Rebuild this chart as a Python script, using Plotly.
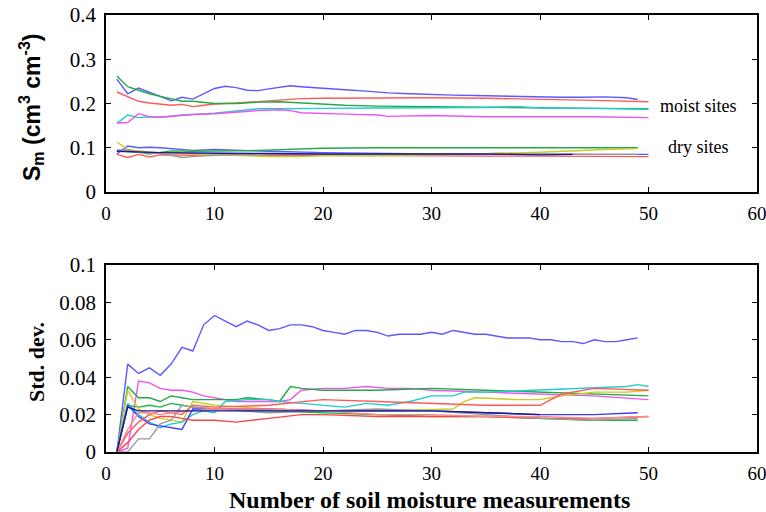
import plotly.graph_objects as go

# ---------------- data: top panel (mean soil moisture, Sm) ----------------
top_series = [
    # (x, y, colour)
    ([1,2,3,4,5,6,7,8,9,10,11,12,13,14,15,16,17,18,19,20,22,24,26,28,30,32,34,36,38,40,42,44,46,48,49],
     [0.255,0.222,0.235,0.226,0.216,0.206,0.214,0.210,0.222,0.234,0.239,0.236,0.230,0.229,0.233,0.236,0.240,0.238,0.236,0.234,0.231,0.228,0.224,0.222,0.220,0.219,0.218,0.217,0.215,0.215,0.214,0.214,0.215,0.213,0.209],
     "#5a5aff"),
    ([1,2,3,4,5,6,7,8,9,10,12,14,16,18,20,25,30,35,40,45,50],
     [0.226,0.215,0.205,0.201,0.199,0.196,0.198,0.193,0.196,0.199,0.201,0.204,0.207,0.211,0.212,0.213,0.213,0.212,0.210,0.207,0.204],
     "#ff5a5a"),
    ([1,2,3,4,5,6,7,8,9,10,12,14,16,18,20,22,25,28,30,35,40,45,50],
     [0.262,0.238,0.230,0.222,0.216,0.210,0.205,0.205,0.203,0.200,0.200,0.203,0.204,0.201,0.199,0.196,0.194,0.193,0.193,0.192,0.190,0.189,0.188],
     "#22aa44"),
    ([1,2,3,4,5,6,7,8,10,12,14,16,18,20,25,30,35,38,40,45,50],
     [0.155,0.174,0.168,0.170,0.169,0.172,0.174,0.175,0.178,0.183,0.188,0.188,0.188,0.189,0.190,0.190,0.191,0.193,0.190,0.189,0.187],
     "#22cccc"),
    ([1,2,3,4,5,6,8,10,12,14,16,17,18,20,22,25,26,30,35,40,45,50],
     [0.156,0.157,0.177,0.170,0.169,0.171,0.175,0.177,0.181,0.184,0.186,0.184,0.179,0.177,0.176,0.174,0.171,0.173,0.170,0.170,0.170,0.168],
     "#ee55ee"),
    # dry sites
    ([1,2,3,4,5,6,7,8,10,12,15,20,25,30,35,40,45,50],
     [0.086,0.104,0.100,0.101,0.100,0.098,0.097,0.094,0.096,0.095,0.092,0.089,0.087,0.086,0.086,0.085,0.085,0.085],
     "#5a5aff"),
    ([1,2,3,4,5,6,8,10,12,14,16,18,20,25,30,35,40,45,49],
     [0.093,0.092,0.090,0.086,0.090,0.093,0.092,0.092,0.093,0.094,0.096,0.097,0.099,0.100,0.100,0.100,0.100,0.101,0.100],
     "#22aa44"),
    ([1,2,3,4,5,6,8,10,12,15,20,25,30,35,40,45,50],
     [0.085,0.078,0.085,0.079,0.084,0.084,0.083,0.085,0.084,0.083,0.083,0.082,0.082,0.081,0.081,0.080,0.080],
     "#ff5a5a"),
    ([1,2,3,4,5,6,8,10,12,15,18,20,25,30,34,36,38,40,42,44,46,49],
     [0.113,0.096,0.093,0.090,0.088,0.088,0.086,0.085,0.083,0.080,0.080,0.082,0.082,0.083,0.085,0.088,0.088,0.090,0.092,0.095,0.096,0.098],
     "#cccc22"),
    ([1,2,3,4,5,6,7,8,10,12,15,20,25,30,35,40,45,49],
     [0.095,0.095,0.090,0.088,0.087,0.083,0.078,0.080,0.083,0.084,0.085,0.085,0.085,0.086,0.085,0.086,0.085,0.085],
     "#999999"),
    ([1,3,5,8,10,15,20,25,30,35,40,43],
     [0.092,0.090,0.089,0.088,0.088,0.087,0.086,0.086,0.085,0.086,0.084,0.085],
     "#1a1a99"),
]

# ---------------- data: bottom panel (standard deviation) ----------------
bottom_series = [
    (list(range(1, 50)),
     [0,0.047,0.042,0.045,0.041,0.047,0.056,0.054,0.068,0.073,
      0.070,0.067,0.070,0.068,0.065,0.066,0.068,0.068,0.067,0.065,
      0.064,0.063,0.065,0.065,0.064,0.062,0.063,0.063,0.063,0.064,
      0.063,0.065,0.064,0.063,0.063,0.062,0.061,0.061,0.061,0.060,
      0.060,0.059,0.059,0.058,0.060,0.059,0.059,0.060,0.061],
     "#5a5aff"),
    ([1,2,3,4,5,6,7,8,9,10,12,14,16,17,18,20,22,24,26,28,30,35,40,45,50],
     [0,0.002,0.038,0.037,0.034,0.033,0.033,0.032,0.030,0.029,0.027,0.027,0.027,0.028,0.033,0.034,0.034,0.035,0.034,0.034,0.033,0.032,0.031,0.030,0.028],
     "#ee55ee"),
    ([1,2,3,4,5,6,7,8,10,12,13,15,16,17,18,20,25,30,35,40,45,50],
     [0,0.035,0.029,0.029,0.027,0.030,0.029,0.028,0.028,0.028,0.029,0.028,0.027,0.035,0.034,0.033,0.033,0.034,0.033,0.032,0.031,0.030],
     "#22aa44"),
    ([1,2,3,4,5,6,7,8,10,15,20,25,30,35,40,45,49],
     [0,0.025,0.024,0.025,0.024,0.026,0.025,0.024,0.023,0.022,0.021,0.020,0.019,0.019,0.018,0.017,0.017],
     "#11bb44"),
    ([1,2,3,4,5,6,7,8,10,15,20,25,30,32,33,34,38,40,41,42,45,48,50],
     [0,0.033,0.023,0.020,0.018,0.017,0.016,0.027,0.025,0.023,0.022,0.022,0.023,0.023,0.027,0.029,0.028,0.028,0.029,0.030,0.032,0.032,0.033],
     "#cccc22"),
    ([1,2,3,4,5,6,7,8,9,10,11,13,15,16,18,20,22,24,26,28,30,32,33,35,40,45,48,49,50],
     [0,0.026,0.020,0.016,0.013,0.015,0.016,0.020,0.022,0.021,0.027,0.028,0.028,0.027,0.026,0.025,0.024,0.026,0.025,0.027,0.030,0.030,0.032,0.032,0.033,0.034,0.035,0.036,0.035],
     "#22cccc"),
    ([1,2,3,4,5,6,7,8,10,15,20,25,30,35,40,45,49],
     [0,0.025,0.019,0.015,0.014,0.013,0.012,0.023,0.023,0.023,0.022,0.022,0.022,0.021,0.020,0.020,0.021],
     "#3a3aff"),
    ([1,2,3,4,5,6,7,8,10,15,18,20,25,30,35,40,41,42,45,50],
     [0,0.010,0.016,0.020,0.022,0.021,0.020,0.025,0.024,0.025,0.027,0.028,0.027,0.026,0.025,0.025,0.028,0.031,0.034,0.033],
     "#ff5a5a"),
    ([1,2,3,4,5,6,7,8,10,12,15,18,20,25,30,35,40,45,50],
     [0,0.005,0.012,0.017,0.019,0.019,0.018,0.017,0.017,0.016,0.018,0.020,0.020,0.019,0.019,0.019,0.018,0.018,0.019],
     "#ff4444"),
    ([1,2,3,4,5,6,7,8,10,15,20,25,30,35,40,45,49],
     [0,0.000,0.007,0.007,0.015,0.017,0.025,0.024,0.023,0.021,0.022,0.023,0.022,0.020,0.018,0.017,0.018],
     "#999999"),
    ([1,2,3,4,5,6,8,10,15,20,25,30,35,40,45,50],
     [0,0.012,0.021,0.021,0.020,0.021,0.022,0.023,0.023,0.022,0.020,0.020,0.019,0.019,0.018,0.019],
     "#ff8888"),
    ([1,2,3,5,8,10,15,20,25,30,35,40],
     [0,0.024,0.022,0.022,0.022,0.022,0.022,0.022,0.022,0.022,0.021,0.020],
     "#1a1a99"),
]

x_ticks = [0, 10, 20, 30, 40, 50, 60]
top_yticks = [0, 0.1, 0.2, 0.3, 0.4]
top_ylabels = ["0", "0.1", "0.2", "0.3", "0.4"]
bot_yticks = [0, 0.02, 0.04, 0.06, 0.08, 0.1]
bot_ylabels = ["0", "0.02", "0.04", "0.06", "0.08", "0.1"]

W, H = 766, 512
fig = go.Figure()

for x, y, c in top_series:
    fig.add_trace(go.Scatter(x=x, y=y, mode="lines", line=dict(color=c, width=1.4),
                             xaxis="x", yaxis="y", showlegend=False, hoverinfo="skip"))
for x, y, c in bottom_series:
    fig.add_trace(go.Scatter(x=x, y=y, mode="lines", line=dict(color=c, width=1.4),
                             xaxis="x2", yaxis="y2", showlegend=False, hoverinfo="skip"))

axis_common = dict(showline=True, linecolor="black", linewidth=1.5, mirror="ticks",
                   ticks="inside", ticklen=5, tickwidth=1, tickcolor="black",
                   showgrid=False, zeroline=False,
                   ticklabeloverflow="allow", automargin=False)
xfont = dict(family="Liberation Serif", size=19, color="black")
yfont = dict(family="Liberation Serif", size=21, color="black")

x0, x1 = 106 / W, 757 / W
fig.update_layout(
    width=W, height=H,
    margin=dict(l=0, r=0, t=0, b=0),
    paper_bgcolor="white", plot_bgcolor="white",
    xaxis=dict(domain=[x0, x1], range=[0, 60], tickvals=x_ticks, anchor="y",
               ticklabelstandoff=3, tickfont=xfont, **axis_common),
    yaxis=dict(domain=[1 - 192 / H, 1 - 15 / H], range=[0, 0.4], tickvals=top_yticks,
               ticktext=top_ylabels, anchor="x", ticklabelstandoff=4, tickfont=yfont,
               **axis_common),
    xaxis2=dict(domain=[x0, x1], range=[0, 60], tickvals=x_ticks, anchor="y2",
                ticklabelstandoff=3, tickfont=xfont, **axis_common),
    yaxis2=dict(domain=[1 - 452 / H, 1 - 265 / H], range=[0, 0.1], tickvals=bot_yticks,
                ticktext=bot_ylabels, anchor="x2", ticklabelstandoff=4, tickfont=yfont,
                **axis_common),
    annotations=[
        dict(text="<b>S<sub>m</sub> (cm<sup>3</sup> cm<sup>-3</sup>)</b>", textangle=-90,
             x=31 / W, y=1 - 107 / H, xref="paper", yref="paper", showarrow=False,
             xanchor="center", yanchor="middle",
             font=dict(family="Liberation Sans", size=23, color="black")),
        dict(text="<b>Std. dev.</b>", textangle=-90,
             x=36 / W, y=1 - 362 / H, xref="paper", yref="paper", showarrow=False,
             xanchor="center", yanchor="middle",
             font=dict(family="Liberation Serif", size=22, color="black")),
        dict(text="<b>Number of soil moisture measurements</b>",
             x=429 / W, y=1 - 500 / H, xref="paper", yref="paper", showarrow=False,
             xanchor="center", yanchor="middle",
             font=dict(family="Liberation Serif", size=24, color="black")),
        dict(text="moist sites", x=698 / W, y=1 - 106 / H, xref="paper", yref="paper",
             showarrow=False, xanchor="center", yanchor="middle",
             font=dict(family="Liberation Serif", size=18, color="black")),
        dict(text="dry sites", x=698 / W, y=1 - 147 / H, xref="paper", yref="paper",
             showarrow=False, xanchor="center", yanchor="middle",
             font=dict(family="Liberation Serif", size=18, color="black")),
    ],
)

fig.write_html("out.html")
